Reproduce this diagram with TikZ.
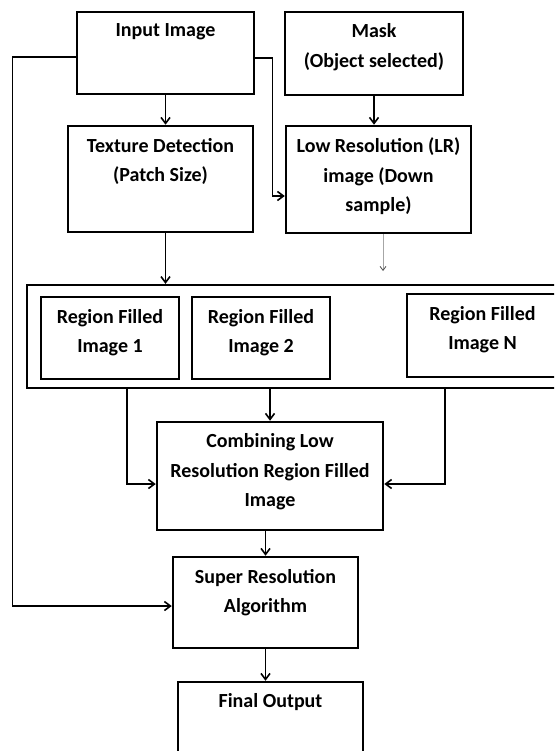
\documentclass[tikz,border=0pt]{standalone}
\usepackage{fontspec}
\setmainfont{Carlito}
\usetikzlibrary{arrows.meta}
\begin{document}
\begin{tikzpicture}[
  x=1pt, y=-1pt,
  box/.style={draw, line width=2.5pt, inner sep=0pt},
  txt/.style={align=center, inner sep=0pt, font=\fontsize{20}{29.5}\selectfont\bfseries},
  top/.style={label={[txt, anchor=north, yshift=-13pt]north:{#1}}},
  arr/.style={-{Straight Barb[length=6pt,width=9pt,line width=1.6pt]}, line width=1.4pt},
  faint/.style={-{Straight Barb[length=4pt,width=6pt,color=black!70]}, line width=0.8pt, draw=black!35},
]
\clip (0,0) rectangle (554,751);
\fill[white] (0,0) rectangle (554,751);

\node[box, minimum width=177pt, minimum height=82pt, top={Input Image}] (input) at (165.5,53) {};
\node[box, minimum width=178pt, minimum height=83pt, top={Mask\\(Object selected)}] (mask) at (374,53.5) {};
\node[box, minimum width=185pt, minimum height=106pt, top={Texture Detection\\(Patch Size)}] (texture) at (160.5,179) {};
\node[box, minimum width=185pt, minimum height=107pt, top={Low Resolution (LR)\\image (Down\\sample)}] (lowres) at (378.5,179.5) {};

% region filled images
\node[box, line width=2.2pt, minimum width=539pt, minimum height=103pt] (frame) at (296.5,336.5) {};
\node[box, line width=2.2pt, minimum width=138pt, minimum height=82pt, top={Region Filled\\Image 1}] (region1) at (110,338) {};
\node[box, line width=2.2pt, minimum width=138pt, minimum height=82pt, top={Region Filled\\Image 2}] (region2) at (261,338) {};
\node[box, line width=2.2pt, minimum width=151pt, minimum height=83pt, top={Region Filled\\Image N}] (regionN) at (482.5,335.5) {};

\node[box, minimum width=226pt, minimum height=108pt, top={Combining Low\\Resolution Region Filled\\Image}] (combine) at (270,476) {};
\node[box, minimum width=185pt, minimum height=91pt, top={Super Resolution\\Algorithm}] (super) at (265.5,602.5) {};
\node[box, minimum width=185pt, minimum height=90pt, top={Final Output}] (final) at (270.5,727) {};

\coordinate (lrend) at (383,271);

\draw[arr] (input.south) -- (input.south |- texture.north);
\draw[arr] (mask.south) -- (mask.south |- lowres.north);
\draw[arr] ([yshift=-5pt]input.east) -- ++(17,0) |- ([yshift=-16.5pt]lowres.west);
\draw[arr] ([yshift=-4pt]input.west) -- ++(-63,0) |- ([yshift=-3.5pt]super.west);
\draw[arr] (input.south |- texture.south) -- (input.south |- frame.north);
\draw[faint] (lowres.south -| lrend) -- (lrend);

\draw[arr] ([xshift=-169.5pt]frame.south) |- ([yshift=-8pt]combine.west);
\draw[arr] (combine.north |- frame.south) -- (combine.north);
\draw[arr] ([xshift=148.5pt]frame.south) |- ([yshift=-8pt]combine.east);
\draw[arr] (super.north |- combine.south) -- (super.north);
\draw[arr] (super.south) -- (super.south |- final.north);

\end{tikzpicture}
\end{document}
